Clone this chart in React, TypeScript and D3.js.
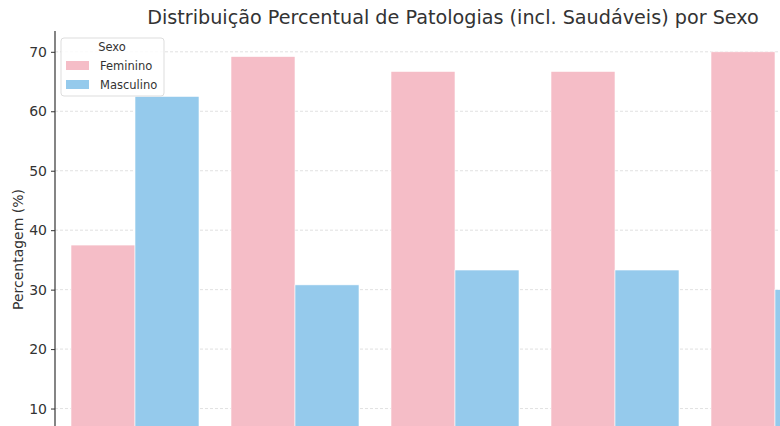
import * as d3 from 'd3';
import {useEffect, useRef} from 'react';

const categories = ['Patologia A', 'Patologia B', 'Patologia C', 'Patologia D', 'Patologia E'];
const feminino = [37.5, 69.2, 66.7, 66.7, 70.0];
const masculino = [62.5, 30.8, 33.3, 33.3, 30.0];
const sexos = ['Feminino', 'Masculino'];
const yTicks = [10, 20, 30, 40, 50, 60, 70];

const width = 780;
const height = 426;
const colors = {Feminino: '#f5bdc7', Masculino: '#95caec'};

function App() {
  const ref = useRef<HTMLDivElement>(null);

  useEffect(() => {
    const left = 55;
    const top = 31;
    const bottom = 468;

    const svg = d3
      .select(ref.current)
      .append('svg')
      .attr('width', width)
      .attr('height', height)
      .style('position', 'absolute')
      .style('left', '0px')
      .style('top', '0px')
      .style('background', '#fff')
      .style('font-family', 'DejaVu Sans, sans-serif');

    const x = d3
      .scaleBand()
      .domain(categories)
      .range([left, left + 160 * categories.length]);
    const inner = d3.scaleBand().domain(sexos).range([0, 128]);
    const y = d3.scaleLinear().domain([0, 73.5]).range([bottom, top]);

    // grid
    svg
      .append('g')
      .selectAll('line')
      .data(yTicks)
      .join('line')
      .attr('x1', left)
      .attr('x2', width)
      .attr('y1', d => y(d))
      .attr('y2', d => y(d))
      .attr('stroke', '#d9d9d9')
      .attr('stroke-width', 0.8)
      .attr('stroke-dasharray', '3,2');

    const rows = categories.map((c, i) => ({c, Feminino: feminino[i], Masculino: masculino[i]}));

    const grp = svg.append('g');
    sexos.forEach(s => {
      grp
        .append('g')
        .selectAll('rect')
        .data(rows)
        .join('rect')
        .attr('x', d => (x(d.c) as number) + 16 + (inner(s) as number))
        .attr('width', inner.bandwidth())
        .attr('y', d => y(d[s]))
        .attr('height', d => bottom - y(d[s]))
        .attr('fill', colors[s])
        .attr('stroke', '#ffffff')
        .attr('stroke-width', 0.6);
    });

    // y axis
    const yAxis = d3.axisLeft(y).tickValues(yTicks).tickSize(4).tickPadding(4);
    const ya = svg.append('g').attr('transform', `translate(${left},0)`).call(yAxis);
    ya.select('.domain').attr('stroke', '#333').attr('stroke-width', 1.2).attr('d', `M0,${top}V${bottom}`);
    ya.selectAll('.tick line').attr('stroke', '#333');
    ya.selectAll('.tick text')
      .attr('fill', '#333')
      .style('font-size', '14px')
      .style('font-family', 'DejaVu Sans, sans-serif');

    svg
      .append('text')
      .attr('transform', `translate(23,${(top + bottom) / 2}) rotate(-90)`)
      .attr('text-anchor', 'middle')
      .attr('fill', '#333')
      .style('font-size', '14px')
      .text('Percentagem (%)');

    svg
      .append('text')
      .attr('x', 453)
      .attr('y', 24)
      .attr('text-anchor', 'middle')
      .attr('fill', '#333')
      .style('font-size', '19.2px')
      .text('Distribuição Percentual de Patologias (incl. Saudáveis) por Sexo');

    // legend
    const lg = svg.append('g').attr('transform', 'translate(61,38)');
    lg.append('rect')
      .attr('width', 103)
      .attr('height', 58)
      .attr('rx', 3)
      .attr('fill', 'rgba(255,255,255,0.85)')
      .attr('stroke', '#dddddd');
    lg.append('text')
      .attr('x', 51)
      .attr('y', 13)
      .attr('text-anchor', 'middle')
      .attr('fill', '#333')
      .style('font-size', '11.5px')
      .text('Sexo');
    sexos.forEach((s, i) => {
      lg.append('rect')
        .attr('x', 5)
        .attr('y', 23 + i * 19)
        .attr('width', 23)
        .attr('height', 9)
        .attr('fill', colors[s]);
      lg.append('text')
        .attr('x', 39)
        .attr('y', 32 + i * 19)
        .attr('fill', '#333')
        .style('font-size', '11.5px')
        .text(s);
    });

    return () => {
      svg.remove();
    };
  }, []);

  return <div ref={ref}></div>;
}

export default App;
